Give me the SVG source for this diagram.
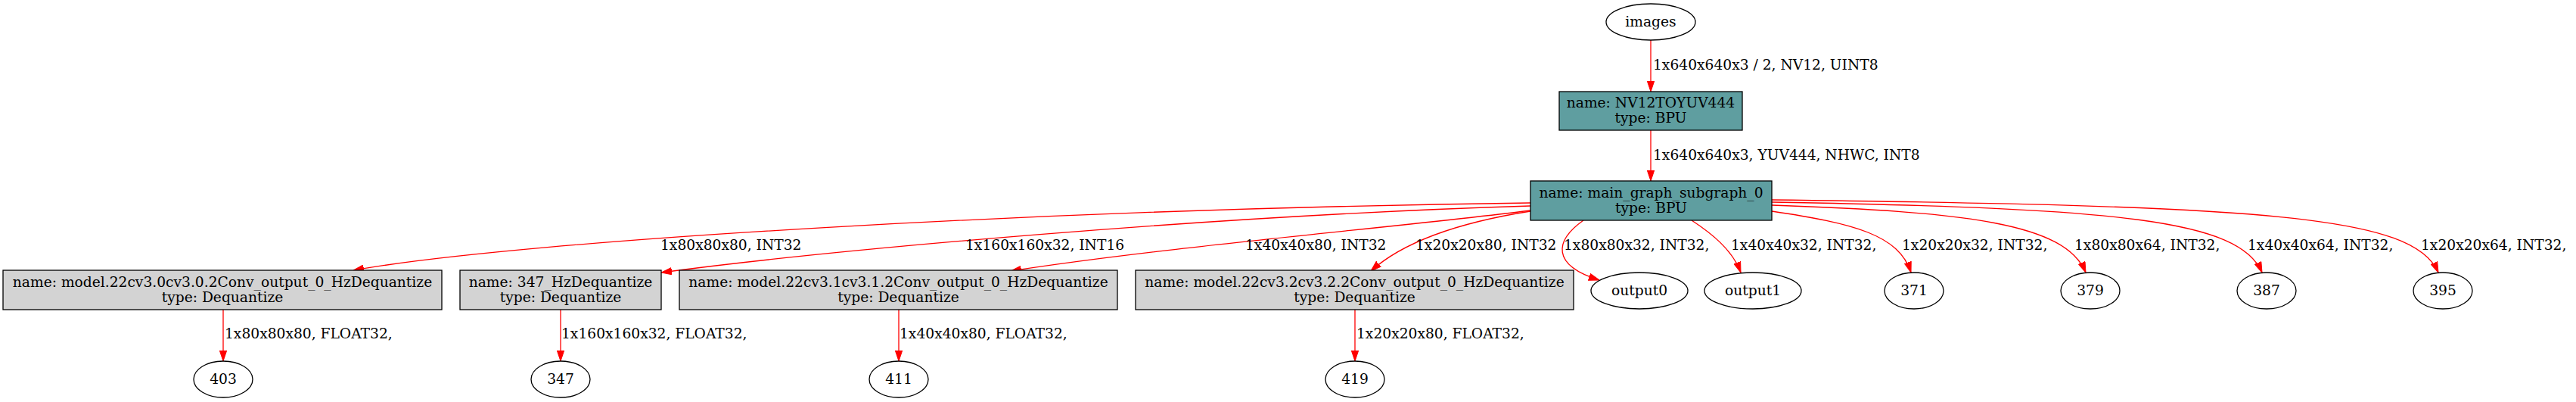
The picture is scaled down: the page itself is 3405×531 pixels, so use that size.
<svg xmlns="http://www.w3.org/2000/svg" width="3405" height="531" viewBox="0 0 3405 531">
<style>
text{font-family:"DejaVu Serif","Liberation Serif",serif;font-size:18.67px;fill:#000}
.n text{text-anchor:middle}
.bpu{fill:#5f9ea0;stroke:#000;stroke-width:1.3}
.deq{fill:#d3d3d3;stroke:#000;stroke-width:1.3}
.el{fill:#fff;stroke:#000;stroke-width:1.3}
.e{fill:none;stroke:#ff0000;stroke-width:1.3;marker-end:url(#ah)}
</style>
<defs>
<marker id="ah" markerUnits="userSpaceOnUse" markerWidth="14" markerHeight="10" viewBox="0 0 14 10" refX="14" refY="5" orient="auto">
<path d="M0,0.3 L14,5 L0,9.7 Z" fill="#ff0000" stroke="#ff0000" stroke-width="1"/>
</marker>
</defs>
<rect width="3405" height="531" fill="#fff"/>
<g id="edges">
<path class="e" d="M2182,53 L2182,121"/>
<path class="e" d="M2182,172 L2182,239"/>
<path class="e" d="M2023,268 C1400,276 700,316 467,357"/>
<path class="e" d="M2023,272 C1600,285 1100,330 874,360"/>
<path class="e" d="M2023,278 C1850,300 1550,325 1336,358"/>
<path class="e" d="M2023,279 C1940,292 1860,315 1812,358"/>
<path class="e" d="M2093,291 C2055,318 2050,350 2114,370"/>
<path class="e" d="M2236,291 C2262,308 2290,330 2301,360"/>
<path class="e" d="M2342,279 C2450,295 2510,310 2526,360"/>
<path class="e" d="M2342,271 C2600,280 2730,295 2757,360"/>
<path class="e" d="M2342,267 C2800,275 2960,290 2990,360"/>
<path class="e" d="M2342,264 C3000,272 3190,285 3223,360"/>
<path class="e" d="M295,409 L295,477"/>
<path class="e" d="M741,409 L741,477"/>
<path class="e" d="M1188,409 L1188,477"/>
<path class="e" d="M1791,409 L1791,477"/>
<g id="edge-labels">
<text x="2185" y="92">1x640x640x3 / 2, NV12, UINT8</text>
<text x="2185" y="211">1x640x640x3, YUV444, NHWC, INT8</text>
<text x="873" y="330">1x80x80x80, INT32</text>
<text x="1276" y="330">1x160x160x32, INT16</text>
<text x="1646" y="330">1x40x40x80, INT32</text>
<text x="1871" y="330">1x20x20x80, INT32</text>
<text x="2067" y="330">1x80x80x32, INT32,</text>
<text x="2288" y="330">1x40x40x32, INT32,</text>
<text x="2514" y="330">1x20x20x32, INT32,</text>
<text x="2742" y="330">1x80x80x64, INT32,</text>
<text x="2971" y="330">1x40x40x64, INT32,</text>
<text x="3200" y="330">1x20x20x64, INT32,</text>
<text x="297" y="447">1x80x80x80, FLOAT32,</text>
<text x="742" y="447">1x160x160x32, FLOAT32,</text>
<text x="1189" y="447">1x40x40x80, FLOAT32,</text>
<text x="1793" y="447">1x20x20x80, FLOAT32,</text>
</g>
</g>
<g id="images" class="n"><ellipse class="el" cx="2182" cy="29" rx="59" ry="24"/><text x="2182" y="35">images</text></g>
<g id="nv12" class="n"><rect class="bpu" x="2061" y="121" width="242" height="51"/><text x="2182" y="142">name: NV12TOYUV444</text><text x="2182" y="162">type: BPU</text></g>
<g id="main" class="n"><rect class="bpu" x="2023" y="239" width="319" height="52"/><text x="2182.5" y="261">name: main_graph_subgraph_0</text><text x="2182.5" y="281">type: BPU</text></g>
<g id="deqA" class="n"><rect class="deq" x="4" y="357" width="580" height="52"/><text x="294" y="379">name: model.22cv3.0cv3.0.2Conv_output_0_HzDequantize</text><text x="294" y="399">type: Dequantize</text></g>
<g id="deqB" class="n"><rect class="deq" x="608" y="357" width="266" height="52"/><text x="741" y="379">name: 347_HzDequantize</text><text x="741" y="399">type: Dequantize</text></g>
<g id="deqC" class="n"><rect class="deq" x="898" y="357" width="579" height="52"/><text x="1187.5" y="379">name: model.22cv3.1cv3.1.2Conv_output_0_HzDequantize</text><text x="1187.5" y="399">type: Dequantize</text></g>
<g id="deqD" class="n"><rect class="deq" x="1501" y="357" width="579" height="52"/><text x="1790.5" y="379">name: model.22cv3.2cv3.2.2Conv_output_0_HzDequantize</text><text x="1790.5" y="399">type: Dequantize</text></g>
<g id="output0" class="n"><ellipse class="el" cx="2167" cy="384" rx="64" ry="24"/><text x="2167" y="390">output0</text></g>
<g id="output1" class="n"><ellipse class="el" cx="2317" cy="384" rx="64" ry="24"/><text x="2317" y="390">output1</text></g>
<g id="n371" class="n"><ellipse class="el" cx="2530" cy="384" rx="39" ry="24"/><text x="2530" y="390">371</text></g>
<g id="n379" class="n"><ellipse class="el" cx="2763" cy="384" rx="39" ry="24"/><text x="2763" y="390">379</text></g>
<g id="n387" class="n"><ellipse class="el" cx="2996" cy="384" rx="39" ry="24"/><text x="2996" y="390">387</text></g>
<g id="n395" class="n"><ellipse class="el" cx="3229" cy="384" rx="39" ry="24"/><text x="3229" y="390">395</text></g>
<g id="n403" class="n"><ellipse class="el" cx="295" cy="501" rx="39" ry="24"/><text x="295" y="507">403</text></g>
<g id="n347" class="n"><ellipse class="el" cx="741" cy="501" rx="39" ry="24"/><text x="741" y="507">347</text></g>
<g id="n411" class="n"><ellipse class="el" cx="1188" cy="501" rx="39" ry="24"/><text x="1188" y="507">411</text></g>
<g id="n419" class="n"><ellipse class="el" cx="1791" cy="501" rx="39" ry="24"/><text x="1791" y="507">419</text></g>
</svg>
